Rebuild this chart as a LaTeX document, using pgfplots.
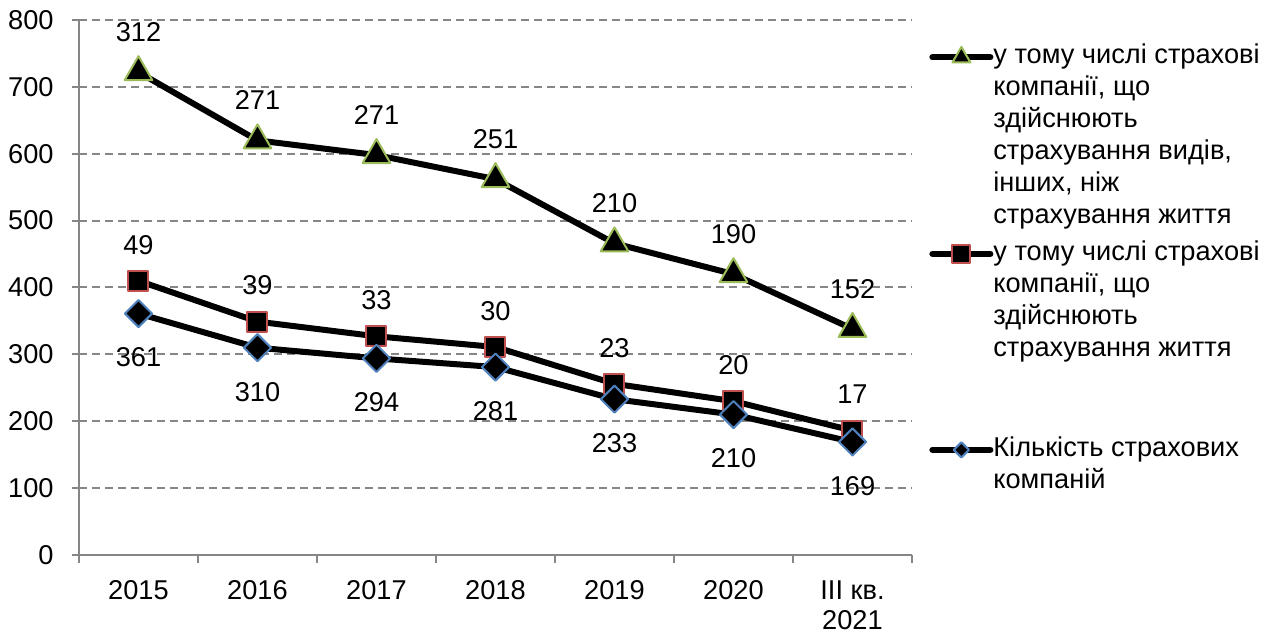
\documentclass[border=0pt]{standalone}
\usepackage{fontspec}
\setmainfont{Liberation Sans}
\usepackage{pgfplots}
\pgfplotsset{compat=1.18}
\definecolor{gridgray}{HTML}{868686}
\definecolor{mgreen}{HTML}{9BBB59}
\definecolor{mred}{HTML}{C0504D}
\definecolor{mblue}{HTML}{4F81BD}
\newcommand{\chf}{\fontsize{13.6}{16}\selectfont}
\tikzset{lt/.style={text height=11.2pt, text depth=4.8pt}}
\begin{document}
\chf
\begin{tikzpicture}
\useasboundingbox (-39.5pt,-40pt) rectangle (599pt,277.5pt);
\begin{axis}[
  scale only axis, width=416.5pt, height=267.5pt,
  at={(0,0)}, anchor=south west,
  xmin=-0.5, xmax=6.5, ymin=0, ymax=800,
  axis lines*=left,
  axis line style={gridgray, line width=1pt},
  xtick={0,...,6},
  xticklabels={2015,2016,2017,2018,2019,2020,{III кв.\\2021}},
  xticklabel style={align=center, anchor=north, inner sep=0pt, yshift=-9pt, font=\fontsize{13.6}{15}\selectfont},
  minor xtick={-0.5,0.5,...,6.5},
  major x tick style={draw=none},
  ytick={0,100,...,800},
  yticklabel style={anchor=east, inner sep=0pt, xshift=-9pt, font=\chf},
  tick align=outside,
  tick style={gridgray, line width=1pt},
  major tick length=3.5pt, minor tick length=4pt,
  ymajorgrids,
  major grid style={gridgray, dash pattern=on 4pt off 2.5pt, line width=1pt},
  /pgf/number format/assume math mode=true,
  legend style={at={(1.0204,0.961)}, anchor=north west, draw=none, fill=none,
    inner sep=0pt, row sep=0pt, column sep=0pt, nodes={inner sep=0pt}, font=\chf},
  legend cell align=left,
  legend image code/.code={\draw[mark repeat=2,mark phase=2] plot coordinates {(0pt,0pt)(14.5pt,0pt)(29pt,0pt)};},
  nodes near coords,
  point meta=explicit symbolic,
]
\addplot[black, line width=3pt, line join=round, line cap=round,
  mark=triangle*, mark size=8pt,
  mark options={fill=black, draw=mgreen, line width=1pt, solid},
  every node near coord/.append style={anchor=center, yshift=20pt, black, font=\chf},
  legend image post style={mark size=5.2pt}]
  table[meta=l] {
x y l
0 722 312
1 620 271
2 598 271
3 562 251
4 466 210
5 420 190
6 338 152
};
\addlegendentry[lt]{у тому числі страхові}
\addlegendimage{empty legend}\addlegendentry[lt]{компанії, що}
\addlegendimage{empty legend}\addlegendentry[lt]{здійснюють}
\addlegendimage{empty legend}\addlegendentry[lt]{страхування видів,}
\addlegendimage{empty legend}\addlegendentry[lt]{інших, ніж}
\addlegendimage{empty legend}\addlegendentry[lt, text depth=7.1pt]{страхування життя}
\addplot[black, line width=3pt, line join=round, line cap=round,
  mark=square*, mark size=5pt,
  mark options={fill=black, draw=mred, line width=1pt, solid},
  every node near coord/.append style={anchor=center, yshift=18pt, black, font=\chf},
  legend image post style={mark size=4.5pt}]
  table[meta=l] {
x y l
0 410 49
1 349 39
2 327 33
3 311 30
4 256 23
5 230 20
6 186 17
};
\addlegendentry[lt]{у тому числі страхові}
\addlegendimage{empty legend}\addlegendentry[lt]{компанії, що}
\addlegendimage{empty legend}\addlegendentry[lt]{здійснюють}
\addlegendimage{empty legend}\addlegendentry[lt]{страхування життя}
\addlegendimage{empty legend}\addlegendentry[text height=34pt, text depth=0pt]{}
\addplot[black, line width=3pt, line join=round, line cap=round,
  mark=square*, mark size=4.8pt,
  mark options={fill=black, draw=mblue, line width=1pt, solid, rotate=45},
  every node near coord/.append style={anchor=center, yshift=-22pt, black, font=\chf},
  legend image post style={mark size=2.7pt}]
  table[meta=l] {
x y l
0 361 361
1 310 310
2 294 294
3 281 281
4 233 233
5 210 210
6 169 169
};
\addlegendentry[lt]{Кількість страхових}
\addlegendimage{empty legend}\addlegendentry[lt]{компаній}
\end{axis}
\end{tikzpicture}
\end{document}
